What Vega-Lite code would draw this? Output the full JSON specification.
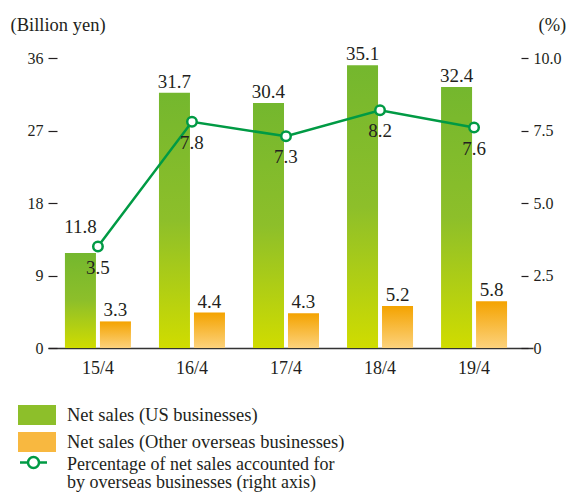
{
  "$schema": "https://vega.github.io/schema/vega-lite/v6.json",
  "width": 485,
  "height": 290,
  "autosize": {"type": "none"},
  "padding": {"left": 48, "top": 58, "right": 33, "bottom": 147},
  "datasets": {
    "bars": [
      {"year": "15/4", "series": "Net sales (US businesses)", "value": 11.8},
      {"year": "15/4", "series": "Net sales (Other overseas businesses)", "value": 3.3},
      {"year": "16/4", "series": "Net sales (US businesses)", "value": 31.7},
      {"year": "16/4", "series": "Net sales (Other overseas businesses)", "value": 4.4},
      {"year": "17/4", "series": "Net sales (US businesses)", "value": 30.4},
      {"year": "17/4", "series": "Net sales (Other overseas businesses)", "value": 4.3},
      {"year": "18/4", "series": "Net sales (US businesses)", "value": 35.1},
      {"year": "18/4", "series": "Net sales (Other overseas businesses)", "value": 5.2},
      {"year": "19/4", "series": "Net sales (US businesses)", "value": 32.4},
      {"year": "19/4", "series": "Net sales (Other overseas businesses)", "value": 5.8}
    ],
    "pct": [
      {"year": "15/4", "pct": 3.5},
      {"year": "16/4", "pct": 7.8},
      {"year": "17/4", "pct": 7.3},
      {"year": "18/4", "pct": 8.2},
      {"year": "19/4", "pct": 7.6}
    ]
  },
  "encoding": {
    "x": {
      "field": "year",
      "type": "nominal",
      "sort": ["15/4", "16/4", "17/4", "18/4", "19/4"],
      "scale": {"paddingInner": 0.298, "paddingOuter": 0.228, "align": 0.395},
      "axis": {
        "title": null,
        "labelAngle": 0,
        "ticks": false,
        "domain": true,
        "domainColor": "#333333",
        "domainWidth": 1.5,
        "labelFontSize": 18,
        "labelPadding": 11,
        "labelColor": "#231f20"
      }
    }
  },
  "layer": [
    {
      "data": {"name": "bars"},
      "encoding": {
        "y": {
          "field": "value",
          "type": "quantitative",
          "scale": {"domain": [0, 36], "nice": false},
          "axis": {
            "orient": "left",
            "values": [0, 9, 18, 27, 36],
            "domain": false,
            "grid": false,
            "offset": -9,
            "tickSize": 9,
            "tickColor": "#231f20",
            "tickWidth": 1.2,
            "labelPadding": 5,
            "labelFontSize": 16,
            "labelColor": "#231f20",
            "title": "(Billion yen)",
            "titleAngle": 0,
            "titleAlign": "left",
            "titleBaseline": "alphabetic",
            "titleX": -47,
            "titleY": -28,
            "titleFontSize": 18.5,
            "titleFontWeight": "normal",
            "titleColor": "#231f20"
          }
        },
        "xOffset": {
          "field": "series",
          "type": "nominal",
          "sort": ["Net sales (US businesses)", "Net sales (Other overseas businesses)"],
          "scale": {"paddingInner": 0.114, "paddingOuter": 0}
        }
      },
      "layer": [
        {
          "mark": {"type": "bar"},
          "encoding": {
            "fill": {
              "condition": {
                "test": "datum.series === 'Net sales (US businesses)'",
                "value": {"gradient": "linear", "x1": 0, "y1": 0, "x2": 0, "y2": 1, "stops": [{"offset": 0, "color": "#74b72e"}, {"offset": 0.5, "color": "#8dbf2a"}, {"offset": 1, "color": "#d0dc00"}]}
              },
              "value": {"gradient": "linear", "x1": 0, "y1": 0, "x2": 0, "y2": 1, "stops": [{"offset": 0, "color": "#f4a300"}, {"offset": 1, "color": "#fcd27c"}]}
            }
          }
        },
        {
          "transform": [{"filter": "false"}],
          "mark": {"type": "bar"},
          "encoding": {
            "fill": {
              "field": "series",
              "type": "nominal",
              "scale": {
                "domain": ["Net sales (US businesses)", "Net sales (Other overseas businesses)"],
                "range": ["#8dbf2a", "#f8b840"]
              },
              "legend": {
                "orient": "none",
                "legendX": -21,
                "legendY": 347,
                "title": null,
                "padding": 0,
                "rowPadding": 7,
                "labelOffset": 20,
                "labelFontSize": 18.5,
                "labelLimit": 500,
                "labelColor": "#231f20",
                "symbolType": "M-1.9,-1H1.9V1H-1.9Z",
                "symbolSize": 400,
                "symbolStrokeWidth": 0,
                "symbolOpacity": 1,
                "encode": {
                  "symbols": {
                    "update": {
                      "fill": {"signal": "datum.value === 'Net sales (US businesses)' ? {gradient: 'linear', x1: 0, y1: 0, x2: 0, y2: 1, stops: [{offset: 0, color: '#85c23a'}, {offset: 1, color: '#c9df50'}]} : {gradient: 'linear', x1: 0, y1: 0, x2: 0, y2: 1, stops: [{offset: 0, color: '#f6a824'}, {offset: 1, color: '#fdd584'}]}"},
                      "opacity": {"value": 1}
                    }
                  }
                }
              }
            }
          }
        },
        {
          "transform": [{"filter": "!(datum.year === '15/4' && datum.series === 'Net sales (US businesses)')"}],
          "mark": {"type": "text", "baseline": "alphabetic", "dy": -5, "fontSize": 19, "color": "#231f20"},
          "encoding": {
            "text": {"field": "value", "type": "quantitative", "format": ".1f"}
          }
        },
        {
          "transform": [{"filter": "datum.year === '15/4' && datum.series === 'Net sales (US businesses)'"}],
          "mark": {"type": "text", "baseline": "alphabetic", "dy": -20, "fontSize": 19, "color": "#231f20"},
          "encoding": {
            "text": {"field": "value", "type": "quantitative", "format": ".1f"}
          }
        }
      ]
    },
    {
      "data": {"name": "pct"},
      "encoding": {
        "y": {
          "field": "pct",
          "type": "quantitative",
          "scale": {"domain": [0, 10], "nice": false},
          "axis": {
            "orient": "right",
            "values": [0, 2.5, 5, 7.5, 10],
            "labelExpr": "datum.value == 0 ? '0' : format(datum.value, '.1f')",
            "domain": false,
            "grid": false,
            "offset": -12,
            "tickSize": 7,
            "tickColor": "#231f20",
            "tickWidth": 1.2,
            "labelPadding": 5,
            "labelFontSize": 16,
            "labelColor": "#231f20",
            "title": "(%)",
            "titleAngle": 0,
            "titleAlign": "left",
            "titleBaseline": "alphabetic",
            "titleX": 17,
            "titleY": -28,
            "titleFontSize": 18.5,
            "titleFontWeight": "normal",
            "titleColor": "#231f20"
          }
        }
      },
      "layer": [
        {
          "mark": {"type": "line", "strokeWidth": 2.5},
          "encoding": {
            "stroke": {
              "datum": "Percentage of net sales accounted for|by overseas businesses (right axis)",
              "scale": {"range": ["#009a44"]},
              "legend": {
                "orient": "none",
                "legendX": -26,
                "legendY": 393,
                "title": null,
                "padding": 0,
                "labelOffset": 22,
                "labelFontSize": 18,
                "labelLimit": 500,
                "labelColor": "#231f20",
                "labelBaseline": "top",
                "labelExpr": "split(datum.label, '|')",
                "symbolType": "M-1.35,0H-0.55M0.55,0H1.35M0.55,0A0.55,0.55,0,1,1,-0.55,0A0.55,0.55,0,1,1,0.55,0Z",
                "symbolSize": 400,
                "symbolStrokeWidth": 2.5,
                "symbolStrokeColor": "#009a44",
                "symbolFillColor": "#ffffff",
                "encode": {
                  "labels": {
                    "update": {
                      "lineHeight": {"value": 18.5},
                      "dy": {"value": -7}
                    }
                  }
                }
              }
            }
          }
        },
        {
          "mark": {"type": "point", "filled": true, "fill": "#ffffff", "stroke": "#009a44", "strokeWidth": 2.5, "size": 90, "opacity": 1},
          "encoding": {}
        },
        {
          "mark": {"type": "text", "baseline": "middle", "dy": 21, "fontSize": 19, "color": "#231f20"},
          "encoding": {
            "text": {"field": "pct", "type": "quantitative", "format": ".1f"}
          }
        }
      ]
    }
  ],
  "resolve": {"scale": {"y": "independent"}},
  "config": {
    "font": "'Liberation Serif', 'Times New Roman', serif",
    "view": {"stroke": null},
    "text": {"font": "'Liberation Serif', 'Times New Roman', serif"},
    "axis": {"labelFont": "'Liberation Serif', 'Times New Roman', serif", "titleFont": "'Liberation Serif', 'Times New Roman', serif"},
    "legend": {"labelFont": "'Liberation Serif', 'Times New Roman', serif"}
  }
}
